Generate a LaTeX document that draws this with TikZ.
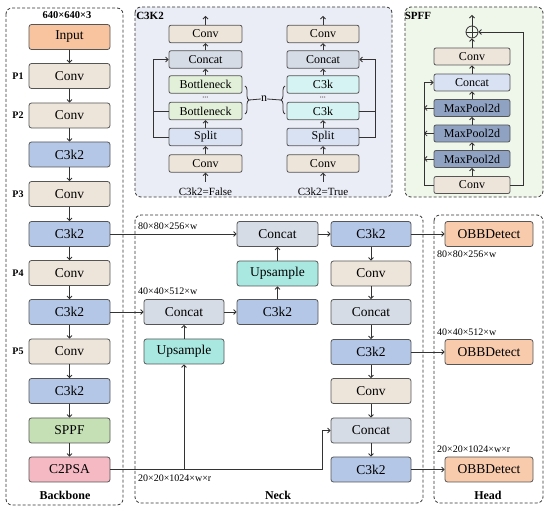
\documentclass[tikz,border=0pt]{standalone}
\usepackage{fontspec}
\setmainfont{Liberation Serif}
\usetikzlibrary{arrows.meta,decorations.pathreplacing}
\definecolor{convc}{HTML}{EDE5DA}
\definecolor{c3c}{HTML}{B4C7E7}
\definecolor{catc}{HTML}{D6DCE5}
\definecolor{upc}{HTML}{A9E8E1}
\definecolor{sppfc}{HTML}{C5E0B4}
\definecolor{psac}{HTML}{F4B9C3}
\definecolor{inputc}{HTML}{F8C4A0}
\definecolor{obbc}{HTML}{F8CBAD}
\definecolor{botc}{HTML}{E2F0D9}
\definecolor{c3kc}{HTML}{D5F3F2}
\definecolor{splitc}{HTML}{D9E2F3}
\definecolor{mpc}{HTML}{8FA2C2}
\definecolor{c3bg}{HTML}{EBEDF6}
\definecolor{spbg}{HTML}{EFF6EA}
\definecolor{bordc}{HTML}{555555}
\definecolor{linec}{HTML}{333333}
\begin{document}
\begin{tikzpicture}[x=1pt,y=-1pt,
  box/.style={draw=bordc,line width=0.8pt,rounded corners=2.5pt,minimum width=81pt,minimum height=25pt,inner sep=0pt,font=\fontsize{13.5}{14}\selectfont},
  sbox/.style={draw=bordc,line width=0.8pt,rounded corners=2pt,minimum width=73pt,minimum height=17.5pt,inner sep=0pt,font=\fontsize{12}{13}\selectfont},
  hbox/.style={box,minimum width=88pt,fill=obbc},
  panel/.style={draw=linec,line width=0.8pt,dash pattern=on 3pt off 2pt,rounded corners=6pt},
  arr/.style={draw=linec,line width=0.8pt,-{Straight Barb[length=2.5pt,width=5pt]}},
  ln/.style={draw=linec,line width=0.8pt},
  dim/.style={font=\fontsize{10}{11}\selectfont,anchor=west,inner sep=0pt},
  plab/.style={font=\bfseries\fontsize{10}{11}\selectfont,inner sep=0pt},
  dts/.style={font=\bfseries\fontsize{6}{6}\selectfont,inner sep=0pt},
  ttl/.style={font=\bfseries\fontsize{12}{13}\selectfont,inner sep=0pt}]
\useasboundingbox (0,0) rectangle (550,513);
% panels
\draw[panel] (6,8) rectangle (123,505);
\draw[panel,fill=c3bg] (135,7) rectangle (392,197);
\draw[panel,fill=spbg] (405,7) rectangle (543,197);
\draw[panel] (135,215) rectangle (423,503);
\draw[panel] (434,215) rectangle (543,503);
% backbone
\node[ttl,font=\bfseries\fontsize{10.5}{11}\selectfont] (t640) at (67,15) {640×640×3};
\node[box,fill=inputc] (in) at (69.5,37) {Input};
\node[box,fill=convc] (p1) at (69.5,76) {Conv};
\node[box,fill=convc] (p2) at (69.5,115.5) {Conv};
\node[box,fill=c3c] (b3) at (69.5,154.5) {C3k2};
\node[box,fill=convc] (p3) at (69.5,194) {Conv};
\node[box,fill=c3c] (b5) at (69.5,234) {C3k2};
\node[box,fill=convc] (p4) at (69.5,273) {Conv};
\node[box,fill=c3c] (b7) at (69.5,312) {C3k2};
\node[box,fill=convc] (p5) at (69.5,351.5) {Conv};
\node[box,fill=c3c] (b9) at (69.5,391) {C3k2};
\node[box,fill=sppfc] (sp) at (69.5,430.5) {SPPF};
\node[box,fill=psac] (psa) at (69.5,469.5) {C2PSA};
\foreach \a/\b in {in/p1,p1/p2,p2/b3,b3/p3,p3/b5,b5/p4,p4/b7,b7/p5,p5/b9,b9/sp,sp/psa}
  \draw[arr] (\a) -- (\b);
\node[plab] (lp1) at (18,76) {P1};
\node[plab] (lp2) at (18,115.5) {P2};
\node[plab] (lp3) at (18,194) {P3};
\node[plab] (lp4) at (18,273) {P4};
\node[plab] (lp5) at (18,351.5) {P5};
\node[ttl] (tbb) at (65,495) {Backbone};
% C3K2 panel
\node[ttl,font=\bfseries\fontsize{11}{12}\selectfont] (tc3) at (150,16) {C3K2};
\node[sbox,fill=convc] (lcv1) at (205.5,34) {Conv};
\node[sbox,fill=catc] (lcat) at (205.5,59.5) {Concat};
\node[sbox,fill=botc] (lbt1) at (205.5,84.5) {Bottleneck};
\node[dts] (ldots) at (205.5,98) {···};
\node[sbox,fill=botc] (lbt2) at (205.5,111) {Bottleneck};
\node[sbox,fill=splitc] (lspl) at (205.5,137) {Split};
\node[sbox,fill=convc] (lcv0) at (205.5,163.5) {Conv};
\node[font=\fontsize{11}{12}\selectfont,inner sep=0pt] (lfal) at (205.5,192) {C3k2=False};
\coordinate (ltop) at (205.5,16);
\coordinate (lbot) at (205.5,182);
\draw[arr] (lbot) -- (lcv0);
\draw[arr] (lcv0) -- (lspl);
\draw[arr] (lspl) -- (lbt2);
\draw[arr] (lbt1) -- (lcat);
\draw[arr] (lcat) -- (lcv1);
\draw[arr] (lcv1) -- (ltop);
\coordinate (lb1) at (153,137);
\coordinate (lb2) at (153,111);
\coordinate (lb3) at (153,59.5);
\draw[ln] (lspl.west) -- (lb1) -- (lb2);
\draw[ln] (lbt2.west) -- (lb2);
\draw[arr] (lb2) -- (lb3) -- (lcat.west);
\node[sbox,fill=convc,minimum width=72pt] (rcv1) at (323,34) {Conv};
\node[sbox,fill=catc,minimum width=72pt] (rcat) at (323,59.5) {Concat};
\node[sbox,fill=c3kc,minimum width=72pt] (rk1) at (323,84.5) {C3k};
\node[dts] (rdots) at (323,98) {···};
\node[sbox,fill=c3kc,minimum width=72pt] (rk2) at (323,111) {C3k};
\node[sbox,fill=splitc,minimum width=72pt] (rspl) at (323,137) {Split};
\node[sbox,fill=convc,minimum width=72pt] (rcv0) at (323,163.5) {Conv};
\node[font=\fontsize{11}{12}\selectfont,inner sep=0pt] (rtru) at (323,192) {C3k2=True};
\coordinate (rtop) at (323,16);
\coordinate (rbot) at (323,182);
\draw[arr] (rbot) -- (rcv0);
\draw[arr] (rcv0) -- (rspl);
\draw[arr] (rspl) -- (rk2);
\draw[arr] (rk1) -- (rcat);
\draw[arr] (rcat) -- (rcv1);
\draw[arr] (rcv1) -- (rtop);
\coordinate (rb1) at (375,137);
\coordinate (rb2) at (375,111);
\coordinate (rb3) at (375,59.5);
\draw[ln] (rspl.east) -- (rb1) -- (rb2);
\draw[ln] (rk2.east) -- (rb2);
\draw[arr] (rb2) -- (rb3) -- (rcat.east);
% n brace
\draw[ln,decorate,decoration={brace,amplitude=4pt}] (245,86) -- (245,114);
\draw[ln,decorate,decoration={brace,amplitude=4pt}] (285,114) -- (285,86);
\node[font=\fontsize{12}{13}\selectfont,inner sep=0pt] (nn) at (264,99) {n};
\coordinate (nl) at (249,100);
\coordinate (nr) at (281,100);
\draw[ln] (nl) -- (nn.west);
\draw[ln] (nn.east) -- (nr);
% SPPF panel
\node[ttl,font=\bfseries\fontsize{11}{12}\selectfont] (tsp) at (418,16) {SPFF};
\node[draw=linec,line width=0.8pt,circle,minimum size=12pt,inner sep=0pt] (plus) at (472,32) {};
\draw[ln] (plus.north) -- (plus.south) (plus.west) -- (plus.east);
\node[sbox,fill=convc,minimum width=76pt,minimum height=17pt] (scv1) at (472,56.5) {Conv};
\node[sbox,fill=splitc,minimum width=76pt,minimum height=17pt] (scat) at (472,82.5) {Concat};
\node[sbox,fill=mpc,minimum width=76pt,minimum height=17pt] (mp3) at (472,108) {MaxPool2d};
\node[sbox,fill=mpc,minimum width=76pt,minimum height=17pt] (mp2) at (472,133.5) {MaxPool2d};
\node[sbox,fill=mpc,minimum width=76pt,minimum height=17pt] (mp1) at (472,159) {MaxPool2d};
\node[sbox,fill=convc,minimum width=76pt,minimum height=17pt] (scv0) at (472,185) {Conv};
\coordinate (stop) at (472,15);
\draw[arr] (scv0) -- (mp1);
\draw[arr] (mp1) -- (mp2);
\draw[arr] (mp2) -- (mp3);
\draw[arr] (mp3) -- (scat);
\draw[arr] (scat) -- (scv1);
\draw[arr] (scv1) -- (plus);
\draw[arr] (plus) -- (stop);
\coordinate (sl0) at (424,185);
\coordinate (sl1) at (424,159);
\coordinate (sl2) at (424,133.5);
\coordinate (sl3) at (424,108);
\coordinate (sl4) at (424,82.5);
\draw[arr] (scv0.west) -- (sl0) -- (sl4) -- (scat.west);
\draw[arr] (mp1.west) -- (sl1);
\draw[arr] (mp2.west) -- (sl2);
\draw[arr] (mp3.west) -- (sl3);
\coordinate (sr0) at (523,185);
\coordinate (sr1) at (523,32);
\draw[arr] (scv0.east) -- (sr0) -- (sr1) -- (plus.east);
% Neck
\node[box,fill=catc] (ncat1) at (277.5,234) {Concat};
\node[box,fill=upc] (nup1) at (277.5,273.5) {Upsample};
\node[box,fill=c3c] (nc3m) at (277.5,312) {C3k2};
\node[box,fill=catc,minimum width=80pt] (ncatl) at (184,312) {Concat};
\node[box,fill=upc,minimum width=80pt] (nupl) at (184,351.5) {Upsample};
\node[box,fill=c3c,minimum width=80pt] (r1) at (371,234) {C3k2};
\node[box,fill=convc,minimum width=80pt] (r2) at (371,273.5) {Conv};
\node[box,fill=catc,minimum width=80pt] (r3) at (371,312) {Concat};
\node[box,fill=c3c,minimum width=80pt] (r4) at (371,352) {C3k2};
\node[box,fill=convc,minimum width=80pt] (r5) at (371,391) {Conv};
\node[box,fill=catc,minimum width=80pt] (r6) at (371,430.5) {Concat};
\node[box,fill=c3c,minimum width=80pt] (r7) at (371,469.5) {C3k2};
\foreach \a/\b in {r1/r2,r2/r3,r3/r4,r4/r5,r5/r6,r6/r7}
  \draw[arr] (\a) -- (\b);
\draw[arr] (b5.east) -- (ncat1.west);
\draw[arr] (b7.east) -- (ncatl.west);
\draw[arr] (nupl) -- (ncatl);
\draw[arr] (ncatl) -- (nc3m);
\draw[arr] (nc3m) -- (nup1);
\draw[arr] (nup1) -- (ncat1);
\draw[arr] (ncat1) -- (r1);
\coordinate (j1) at (184,469.5);
\coordinate (j2) at (322,469.5);
\coordinate (j3) at (322,430.5);
\draw[ln] (psa.east) -- (j1);
\draw[arr] (j1) -- (nupl.south);
\draw[arr] (j1) -- (j2) -- (j3) -- (r6.west);
\node[dim] (d1) at (138,226) {80×80×256×w};
\node[dim] (d2) at (138,291) {40×40×512×w};
\node[dim] (d3) at (138,478) {20×20×1024×w×r};
\node[ttl] (tneck) at (278,495) {Neck};
% Head
\node[hbox] (h1) at (489,234) {OBBDetect};
\node[hbox] (h2) at (489,352) {OBBDetect};
\node[hbox] (h3) at (489,469.5) {OBBDetect};
\draw[arr] (r1.east) -- (h1.west);
\draw[arr] (r4.east) -- (h2.west);
\draw[arr] (r7.east) -- (h3.west);
\node[dim] (e1) at (437,254) {80×80×256×w};
\node[dim] (e2) at (437,332) {40×40×512×w};
\node[dim] (e3) at (437,449) {20×20×1024×w×r};
\node[ttl] (thead) at (488,495) {Head};
\end{tikzpicture}
\end{document}
